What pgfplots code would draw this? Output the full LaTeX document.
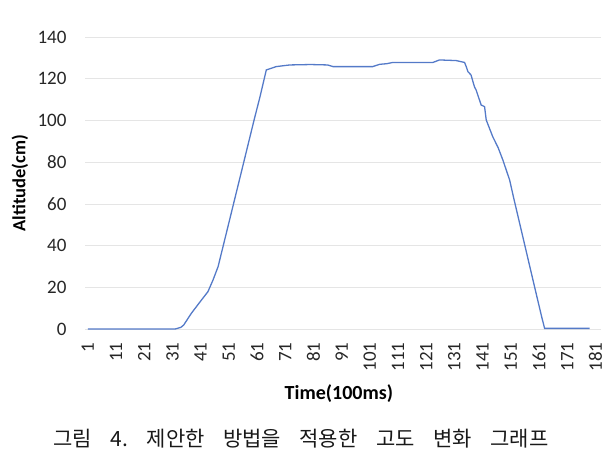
\documentclass[border=0pt]{standalone}
\usepackage{pgfplots}
\pgfplotsset{compat=1.18}
\usepackage{fontspec}
\setmainfont{Carlito}
\newfontfamily\kr{Noto Sans CJK KR}
\definecolor{lineblue}{RGB}{84,122,200}
\begin{document}
\begin{tikzpicture}
\useasboundingbox (0,0) rectangle (612pt,461pt);
\begin{axis}[
  at={(85pt,132pt)}, anchor=south west,
  scale only axis, width=516pt, height=292pt,
  xmin=0, xmax=183, ymin=0, ymax=140,
  axis line style={draw=none},
  ytick={0,20,...,140},
  xtick={1,11,...,181},
  major tick length=0pt,
  ymajorgrids, grid style={black!10, line width=0.6pt},
  /pgf/number format/assume math mode=true,
  tick label style={font=\fontsize{19}{19}\selectfont, text=black!85},
  yticklabel style={xshift=-15pt},
  xticklabel style={rotate=90, anchor=east, xshift=-10pt},
  xlabel={\textbf{Time(100ms)}},
  ylabel={\textbf{Altitude(cm)}},
  xlabel style={font=\fontsize{20}{20}\selectfont, at={(axis description cs:0.492,-0.222)}, anchor=center},
  ylabel style={font=\fontsize{18.5}{18.5}\selectfont, at={(axis description cs:-0.126,0.5)}, anchor=center},
]
\addplot[lineblue, line width=1.3pt] coordinates {
(1,0) (32,0) (34,0.8) (35,1.9) (37.7,7.5) (41.3,13.9) (43.6,17.9) (45.4,23.5) (47.2,29.9)
(50,45.3) (55,72.8) (60,100.4) (62,111) (64.3,124.2) (67.8,125.8) (72.6,126.6)
(80,126.8) (86,126.6) (88,125.8) (95,125.8) (102,125.8) (104.5,126.9) (107,127.2)
(109.2,127.8) (115,127.8) (123.4,127.8) (125.7,129) (131.6,128.7) (134.6,127.8)
(135.2,125.8) (135.8,123.4) (136.9,121.8) (138.1,116.2) (138.7,114.6) (140.5,107.4)
(141.7,106.6) (142.3,100.2) (144.6,92.2) (146.5,87) (148.2,81) (150.6,71.4)
(152,63) (154,51.5) (156,40) (158,28.5) (160,17) (162,5.6) (163,0.3) (179,0.3)
};
\end{axis}
\node[font=\kr\fontsize{21}{21}\selectfont, anchor=center, text=black!90] at (301pt,22pt) {그림\hspace{18.5pt}4.\hspace{18.5pt}제안한\hspace{18.5pt}방법을\hspace{18.5pt}적용한\hspace{18.5pt}고도\hspace{18.5pt}변화\hspace{18.5pt}그래프};
\end{tikzpicture}
\end{document}
